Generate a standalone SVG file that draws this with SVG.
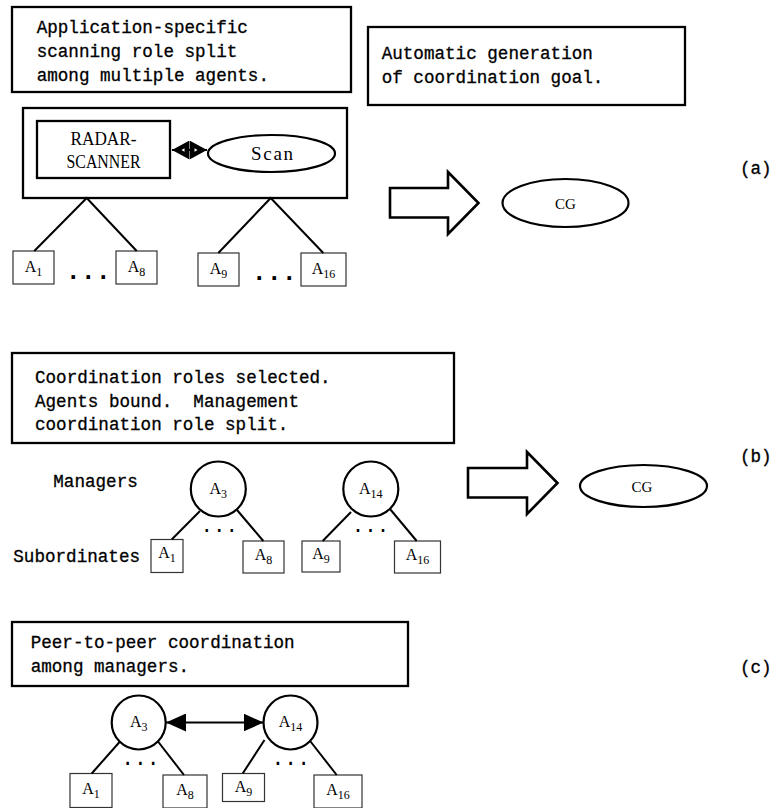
<svg xmlns="http://www.w3.org/2000/svg" width="779" height="808" viewBox="0 0 779 808">
  <style>
    .frame { fill: #fff; stroke: #000; stroke-width: 2.3; }
    .agent { fill: #fff; stroke: #333; stroke-width: 1.2; }
    .mgr { fill: #fff; stroke: #000; stroke-width: 2.2; }
    .oval { fill: #fff; stroke: #000; stroke-width: 2.2; }
    .edge { fill: none; stroke: #000; stroke-width: 2; }
    .bigarrow { fill: #fff; stroke: #000; stroke-width: 2.6; stroke-linejoin: miter; }
    .mono { font-family: "Liberation Mono", "DejaVu Sans Mono", monospace; font-size: 17.6px; fill: #000; stroke: #000; stroke-width: 0.3; }
    .serif { font-family: "Liberation Serif", "DejaVu Serif", serif; fill: #000; }
    .lbl { font-family: "Liberation Serif", "DejaVu Serif", serif; font-size: 16px; fill: #000; text-anchor: middle; }
    .sub { font-size: 12px; }
    .dots { font-family: "Liberation Mono", "DejaVu Sans Mono", monospace; fill: #000; }
  </style>
  <defs>
    <marker id="headFilled" viewBox="0 0 20 18" refX="20" refY="9" markerWidth="20" markerHeight="18" markerUnits="userSpaceOnUse" orient="auto-start-reverse">
      <path d="M0,0 L20,9 L0,18 Z" fill="#000"/>
    </marker>
    <marker id="headDiamond" viewBox="0 0 17.5 19" refX="17.5" refY="9.5" markerWidth="17.5" markerHeight="19" markerUnits="userSpaceOnUse" orient="auto-start-reverse">
      <path d="M0,0 L17.5,9.5 L0,19 Z" fill="#000"/>
      <path d="M5,7.8 L8,9.5 L5,11.2 Z" fill="#fff"/>
    </marker>
  </defs>

  <rect width="779" height="808" fill="#fff"/>

  <!-- panel labels -->
  <g id="panel-labels" class="mono">
    <text x="740" y="174">(a)</text>
    <text x="740" y="462">(b)</text>
    <text x="740" y="673">(c)</text>
  </g>

  <!-- ===== (a) ===== -->
  <g id="note-scanning">
    <rect class="frame" x="12" y="7" width="339" height="85"/>
    <text class="mono" x="36.7" y="33">Application-specific</text>
    <text class="mono" x="36.7" y="57">scanning role split</text>
    <text class="mono" x="36.7" y="81">among multiple agents.</text>
  </g>

  <g id="note-autogen">
    <rect class="frame" x="368" y="27" width="317" height="78"/>
    <text class="mono" x="381.7" y="59">Automatic generation</text>
    <text class="mono" x="381.7" y="82.5">of coordination goal.</text>
  </g>

  <g id="role-group">
    <rect class="frame" x="23" y="108" width="324" height="90"/>
  </g>

  <g id="radar-scanner">
    <rect class="frame" x="37" y="121" width="133" height="57"/>
    <text class="serif" font-size="19" x="103.5" y="145" text-anchor="middle" textLength="66" lengthAdjust="spacingAndGlyphs">RADAR-</text>
    <text class="serif" font-size="19" x="103.5" y="168" text-anchor="middle" textLength="74" lengthAdjust="spacingAndGlyphs">SCANNER</text>
  </g>

  <g id="scan">
    <ellipse class="oval" cx="271.5" cy="153.5" rx="63.5" ry="18.5"/>
    <text class="serif" font-size="19" x="272" y="160" text-anchor="middle" textLength="42" lengthAdjust="spacing">Scan</text>
  </g>

  <g id="a-A1"><rect class="agent" x="13" y="251" width="41" height="33"/><text class="lbl" x="33.5" y="272">A<tspan class="sub" dy="4">1</tspan></text></g>
  <g id="a-A8"><rect class="agent" x="116" y="251" width="41" height="33"/><text class="lbl" x="136.5" y="272">A<tspan class="sub" dy="4">8</tspan></text></g>
  <g id="a-A9"><rect class="agent" x="198" y="253" width="41" height="33"/><text class="lbl" x="218.5" y="274">A<tspan class="sub" dy="4">9</tspan></text></g>
  <g id="a-A16"><rect class="agent" x="301" y="253" width="45" height="33"/><text class="lbl" x="323.5" y="274">A<tspan class="sub" dy="4">16</tspan></text></g>

  <g id="a-dots" class="dots" font-size="25" font-weight="bold">
    <text x="65.8" y="279">...</text>
    <text x="251.8" y="280">...</text>
  </g>

  <g id="a-goal">
    <ellipse class="oval" cx="565.5" cy="203" rx="63" ry="24"/>
    <text class="serif" font-size="15" x="565.5" y="208.5" text-anchor="middle">CG</text>
  </g>

  <!-- ===== (b) ===== -->
  <g id="note-roles">
    <rect class="frame" x="12" y="353" width="442" height="90"/>
    <text class="mono" x="35" y="383">Coordination roles selected.</text>
    <text class="mono" x="35" y="406.5" xml:space="preserve">Agents bound.  Management</text>
    <text class="mono" x="35" y="430">coordination role split.</text>
  </g>

  <g id="b-captions" class="mono">
    <text x="53.3" y="487">Managers</text>
    <text x="13.3" y="562">Subordinates</text>
  </g>

  <g id="b-A3"><circle class="mgr" cx="218.3" cy="489" r="27.5"/><text class="lbl" x="218.3" y="494">A<tspan class="sub" dy="4">3</tspan></text></g>
  <g id="b-A14"><circle class="mgr" cx="370.8" cy="489" r="27.5"/><text class="lbl" x="370.8" y="494">A<tspan class="sub" dy="4">14</tspan></text></g>

  <g id="b-A1"><rect class="agent" x="151" y="539.5" width="32" height="33"/><text class="lbl" x="167" y="558">A<tspan class="sub" dy="4">1</tspan></text></g>
  <g id="b-A8"><rect class="agent" x="243" y="541" width="41" height="32"/><text class="lbl" x="263.5" y="560">A<tspan class="sub" dy="4">8</tspan></text></g>
  <g id="b-A9"><rect class="agent" x="302" y="541" width="38" height="31"/><text class="lbl" x="321" y="559">A<tspan class="sub" dy="4">9</tspan></text></g>
  <g id="b-A16"><rect class="agent" x="394.5" y="541" width="46" height="32"/><text class="lbl" x="417.5" y="560">A<tspan class="sub" dy="4">16</tspan></text></g>

  <g id="b-dots" class="dots" font-size="20.8">
    <text x="200.5" y="532">...</text>
    <text x="351.8" y="532">...</text>
  </g>

  <g id="b-goal">
    <ellipse class="oval" cx="643.5" cy="486" rx="63.5" ry="21"/>
    <text class="serif" font-size="15" x="642" y="491.5" text-anchor="middle">CG</text>
  </g>

  <!-- ===== (c) ===== -->
  <g id="note-peer">
    <rect class="frame" x="12" y="622" width="396" height="64"/>
    <text class="mono" x="30.7" y="648.3">Peer-to-peer coordination</text>
    <text class="mono" x="30.7" y="671.7">among managers.</text>
  </g>

  <g id="c-A3"><circle class="mgr" cx="138.7" cy="722.5" r="27"/><text class="lbl" x="138.7" y="727">A<tspan class="sub" dy="4">3</tspan></text></g>
  <g id="c-A14"><circle class="mgr" cx="290.5" cy="722.5" r="27"/><text class="lbl" x="290.5" y="727">A<tspan class="sub" dy="4">14</tspan></text></g>

  <g id="c-A1"><rect class="agent" x="70" y="773.5" width="42" height="34"/><text class="lbl" x="91" y="794">A<tspan class="sub" dy="4">1</tspan></text></g>
  <g id="c-A8"><rect class="agent" x="163" y="775" width="44" height="33"/><text class="lbl" x="185" y="795">A<tspan class="sub" dy="4">8</tspan></text></g>
  <g id="c-A9"><rect class="agent" x="222.5" y="773.5" width="42" height="28"/><text class="lbl" x="243.5" y="792">A<tspan class="sub" dy="4">9</tspan></text></g>
  <g id="c-A16"><rect class="agent" x="314" y="775" width="48" height="33"/><text class="lbl" x="338" y="795">A<tspan class="sub" dy="4">16</tspan></text></g>

  <g id="c-dots" class="dots" font-size="21.3">
    <text x="121.3" y="765">...</text>
    <text x="271.6" y="765">...</text>
  </g>

  <!-- connectors -->
  <g id="connectors">
    <!-- (a) role binding -->
    <line class="edge" x1="172" y1="150" x2="207" y2="150" stroke-width="1" marker-start="url(#headDiamond)" marker-end="url(#headDiamond)"/>
    <!-- (a) role split trees -->
    <polyline class="edge" points="34.3,251 86.7,198 136.7,251"/>
    <polyline class="edge" points="218.3,253 270.7,198 323.3,253"/>
    <!-- (a) goal generation -->
    <path class="bigarrow" d="M390,188 L448,188 L448,172 L478.5,203 L448,234 L448,217.5 L390,217.5 Z"/>

    <!-- (b) manager/subordinate links -->
    <line class="edge" x1="200" y1="511" x2="171.7" y2="539.5"/>
    <line class="edge" x1="237" y1="510" x2="263.3" y2="541"/>
    <line class="edge" x1="351" y1="512" x2="322.7" y2="541"/>
    <line class="edge" x1="390" y1="509" x2="416.7" y2="541"/>
    <!-- (b) goal generation -->
    <path class="bigarrow" d="M468,468 L527,468 L527,452 L557.5,483 L527,514 L527,497.5 L468,497.5 Z"/>

    <!-- (c) peer link -->
    <line class="edge" x1="166" y1="722.5" x2="263.5" y2="722.5" marker-start="url(#headFilled)" marker-end="url(#headFilled)"/>
    <!-- (c) manager/subordinate links -->
    <line class="edge" x1="120" y1="741.5" x2="91.7" y2="773.5"/>
    <line class="edge" x1="158" y1="741.5" x2="184" y2="775"/>
    <line class="edge" x1="264.5" y1="740" x2="242.7" y2="773.5"/>
    <line class="edge" x1="310.5" y1="741.5" x2="336.7" y2="775"/>
  </g>
</svg>
